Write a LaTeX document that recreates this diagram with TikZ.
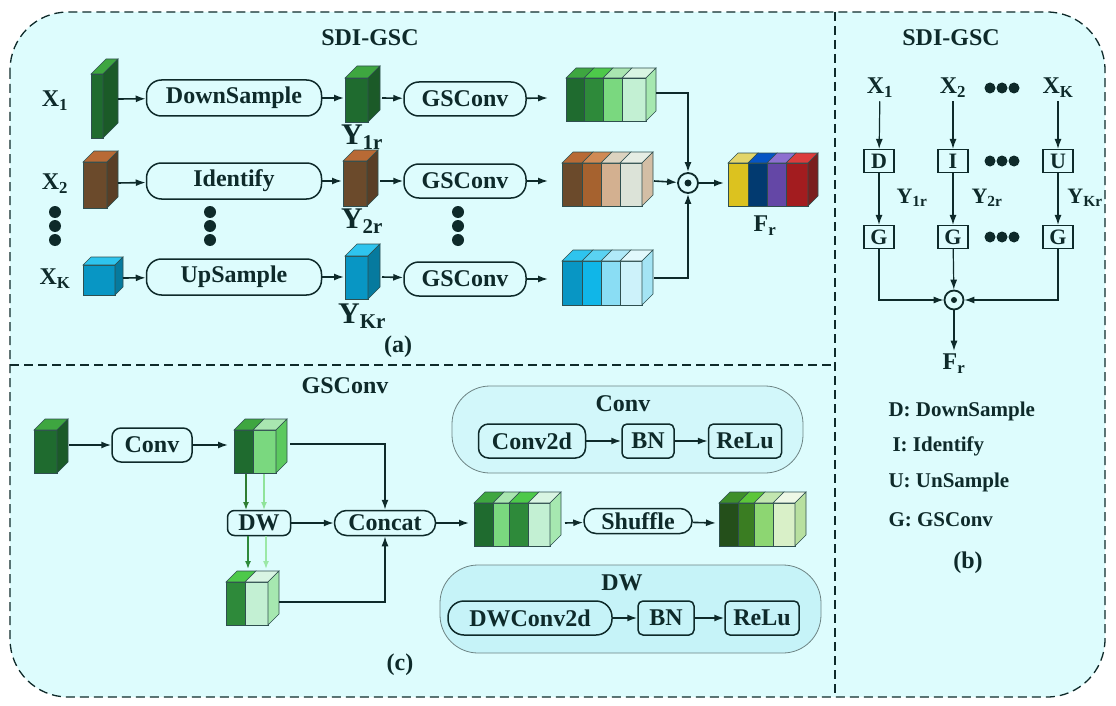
\documentclass[tikz,border=0pt]{standalone}
\usepackage{fontspec}
\setmainfont{Liberation Serif}
\usetikzlibrary{arrows.meta}
\definecolor{ink}{HTML}{0E2A2A}
\definecolor{bg}{HTML}{DDFCFD}
\definecolor{edge}{HTML}{2F4F4F}
\definecolor{ga}{HTML}{2E7D32}
\definecolor{gb}{HTML}{8FE39A}
\definecolor{gc}{HTML}{2E8A3A}
\definecolor{gd}{HTML}{9BE8A6}
\definecolor{pa}{HTML}{D2F7FA}
\definecolor{pb}{HTML}{C6F3F8}
\newcommand\slabf[7]{\definecolor{cf}{HTML}{#6}\definecolor{ct}{HTML}{#7}%
 \filldraw[fill=cf,draw=edge,line width=0.6] (#1,#3) rectangle (#2,#4);
 \filldraw[fill=ct,draw=edge,line width=0.6] (#1,#3)--(#1+#5,#3-#5)--(#2+#5,#3-#5)--(#2,#3)--cycle;}
\newcommand\slabs[5]{\definecolor{cs}{HTML}{#5}%
 \filldraw[fill=cs,draw=edge,line width=0.6] (#1,#2)--(#1+#4,#2-#4)--(#1+#4,#3-#4)--(#1,#3)--cycle;}
\begin{document}
\begin{tikzpicture}[x=1pt,y=-1pt,
  every node/.style={font=\fontsize{24}{24}\selectfont\bfseries,text=ink},
  pill/.style={draw=ink,line width=1.5,rounded corners=15,minimum height=36,inner sep=0},
  rbox/.style={draw=ink,line width=1.5,rounded corners=6,minimum height=34,inner sep=0},
  sq/.style={draw=ink,line width=1.2,minimum width=30,minimum height=23,inner sep=0,font=\fontsize{22}{22}\selectfont\bfseries},
  arr/.style={-{Latex[length=10,width=7]},line width=1.6,draw=ink},
  dot/.style={circle,fill=ink,inner sep=0,minimum width=12,minimum height=9},
  od/.style={circle,draw=ink,line width=1.8,minimum size=20,inner sep=0},
  panel/.style={draw=edge!70,line width=0.8,rounded corners=38}]
\useasboundingbox (0,0) rectangle (1116,706);
\filldraw[fill=bg,draw=ink,dash pattern=on 9 off 5,line width=1.3,rounded corners=58] (10,12) rectangle (1105,697);
\draw[ink,dash pattern=on 9 off 5,line width=1.3] (835,12)--(835,697);
\draw[ink,dash pattern=on 9 off 5,line width=1.3] (10,365)--(835,365);
% ===== (a)
\node at (370,38) {SDI-GSC};
\node at (398,347) {(a)};
\node (x1) at (55,101) {X\textsubscript{1}};
\node (x2) at (55,184) {X\textsubscript{2}};
\node (xk) at (55,279) {X\textsubscript{K}};
\foreach \x in {55,210,458}{\foreach \d in {0,1,2}{\node[dot] at (\x,212+\d*14) {};}}
\slabf{91}{103}{74}{138}{15}{1F6B2F}{3EA640}\slabs{103}{74}{138}{15}{1B5A28}
\slabf{83}{107}{162}{208}{11}{6B4A2B}{B86A35}\slabs{107}{162}{208}{11}{5A3E25}
\slabf{83}{115}{265}{295}{8}{0896C4}{2EC4EE}\slabs{115}{265}{295}{8}{067A9E}
\coordinate (c1) at (118,99);\coordinate (c2) at (118,183);\coordinate (ck) at (123,278);
\node[pill,minimum width=175] (ds) at (234,98) {DownSample};
\node[pill,minimum width=175] (id) at (234,181) {Identify};
\node[pill,minimum width=175] (us) at (234,277) {UpSample};
\draw[arr] (c1)--(ds);\draw[arr] (c2)--(id);\draw[arr] (ck)--(us);
\slabf{345}{368}{78}{122}{12}{1F6B2F}{3EA640}\slabs{368}{78}{122}{12}{1B5A28}
\slabf{343}{367}{161}{206}{11}{6B4A2B}{B86A35}\slabs{367}{161}{206}{11}{5A3E25}
\slabf{345}{368}{256}{299}{12}{0896C4}{2EC4EE}\slabs{368}{256}{299}{12}{067A9E}
\coordinate (y1i) at (344,98);\coordinate (y2i) at (342,181);\coordinate (yki) at (344,277);
\draw[arr] (ds)--(y1i);\draw[arr] (id)--(y2i);\draw[arr] (us)--(yki);
\node[font=\fontsize{30}{30}\selectfont\bfseries] at (362,137) {Y\textsubscript{\fontsize{21}{21}\selectfont 1r}};
\node[font=\fontsize{30}{30}\selectfont\bfseries] at (362,221) {Y\textsubscript{\fontsize{21}{21}\selectfont 2r}};
\node[font=\fontsize{30}{30}\selectfont\bfseries] at (362,316) {Y\textsubscript{\fontsize{21}{21}\selectfont Kr}};
\node[pill,minimum width=122,minimum height=34] (g1) at (465,99) {GSConv};
\node[pill,minimum width=122,minimum height=34] (g2) at (465,181) {GSConv};
\node[pill,minimum width=122,minimum height=34] (gk) at (465,279) {GSConv};
\coordinate (y1o) at (382,98);\coordinate (y2o) at (380,181);\coordinate (yko) at (382,277);
\draw[arr] (y1o)--(g1);\draw[arr] (y2o)--(g2);\draw[arr] (yko)--(gk);
\slabf{566}{584}{78}{121}{10}{1F6B2F}{3EA640}\slabf{584}{603}{78}{121}{10}{2E8A3A}{4DC94A}
\slabf{603}{622}{78}{121}{10}{7AD87F}{A9E6B0}\slabf{622}{646}{78}{121}{10}{C3F0D3}{D9F5E3}\slabs{646}{78}{121}{10}{A6E8B0}
\slabf{562}{582}{163}{206}{11}{6B4A2B}{B86A35}\slabf{582}{601}{163}{206}{11}{A6622F}{D08A55}
\slabf{601}{620}{163}{206}{11}{D3B090}{DCD3C0}\slabf{620}{642}{163}{206}{11}{DCE3D8}{E6EDE4}\slabs{642}{163}{206}{11}{D3BEA5}
\slabf{562}{582}{261}{305}{11}{0896C4}{2EC4EE}\slabf{582}{601}{261}{305}{11}{10B6E8}{5AD2F2}
\slabf{601}{620}{261}{305}{11}{8ADDF4}{B0E9F8}\slabf{620}{642}{261}{305}{11}{CDF2FA}{E2F8FC}\slabs{642}{261}{305}{11}{A4E4F4}
\coordinate (b1i) at (548,98);\coordinate (b2i) at (548,181);\coordinate (bki) at (548,279);
\draw[arr] (g1)--(b1i);\draw[arr] (g2)--(b2i);\draw[arr] (gk)--(bki);
\node[od] (o) at (688,183) {};\fill[ink] (o) circle (3.5);
\coordinate (b1o) at (656,93);\coordinate (b2o) at (654,181);\coordinate (bko) at (654,278);
\draw[arr] (b1o)-|(o);\draw[arr] (b2o)--(o);\draw[arr] (bko)-|(o);
\slabf{728}{748}{163}{206}{10}{DCC21F}{E3D56A}\slabf{748}{767}{163}{206}{10}{023A70}{0654C4}
\slabf{767}{786}{163}{206}{10}{6447A6}{8D70D0}\slabf{786}{808}{163}{206}{10}{A31C1F}{DC3C3C}\slabs{808}{163}{206}{10}{7A1E1E}
\coordinate (fi) at (724,183);\draw[arr] (o)--(fi);
\node at (765,226) {F\textsubscript{r}};
% ===== (b)
\node at (951,38) {SDI-GSC};
\node (bx1) at (880,88) {X\textsubscript{1}};
\node (bx2) at (953,88) {X\textsubscript{2}};
\node (bxk) at (1058,88) {X\textsubscript{K}};
\node[sq] (D) at (879,161) {D};\node[sq] (I) at (953,161) {I};\node[sq] (U) at (1058,161) {U};
\node[sq] (G1) at (879,237) {G};\node[sq] (G2) at (953,237) {G};\node[sq] (GK) at (1058,237) {G};
\foreach \y in {88,161,237}{\foreach \d in {-12,0,12}{\node[dot,minimum width=10,minimum height=11] at (1002+\d,\y) {};}}
\draw[arr,line width=1.2] (bx1)--(D);\draw[arr,line width=1.2] (bx2)--(I);\draw[arr,line width=1.2] (bxk)--(U);
\draw[arr,line width=1.2] (D)--(G1);\draw[arr,line width=1.2] (I)--(G2);\draw[arr,line width=1.2] (U)--(GK);
\node[font=\fontsize{22}{22}\selectfont\bfseries] at (912,198) {Y\textsubscript{1r}};
\node[font=\fontsize{22}{22}\selectfont\bfseries] at (987,198) {Y\textsubscript{2r}};
\node[font=\fontsize{22}{22}\selectfont\bfseries] at (1085,198) {Y\textsubscript{Kr}};
\node[od,minimum size=19] (bo) at (954,300) {};\fill[ink] (bo) circle (3);
\draw[arr,line width=1.2] (G1)|-(bo);\draw[arr,line width=1.2] (G2)--(bo);\draw[arr,line width=1.2] (GK)|-(bo);
\node (bf) at (954,364) {F\textsubscript{r}};
\draw[arr,line width=1.2] (bo)--(bf);
\begin{scope}[every node/.style={anchor=west,font=\fontsize{21}{21}\selectfont\bfseries,text=ink}]
\node at (885,411) {D: DownSample};
\node at (889,446) {I: Identify};
\node at (885,482) {U: UnSample};
\node at (885,520) {G: GSConv};
\end{scope}
\node at (968,563) {(b)};
% ===== (c)
\node at (345,386) {GSConv};
\node at (400,665) {(c)};
\slabf{34}{57}{430}{473}{11}{1F6B2F}{3EA640}\slabs{57}{430}{473}{11}{1B5A28}
\node[rbox,minimum width=80,rounded corners=9] (cv) at (152,445) {Conv};
\coordinate (ci) at (69,445);\draw[arr] (ci)--(cv);
\slabf{234}{253}{430}{473}{11}{1F6B2F}{3EA640}\slabf{253}{276}{430}{473}{11}{7AD87F}{A9E6B0}\slabs{276}{430}{473}{11}{5CC95F}
\coordinate (cu) at (228,445);\draw[arr] (cv)--(cu);
\node[rbox,minimum width=63,minimum height=25,rounded corners=7] (dw) at (259,523) {DW};
\node[rbox,minimum width=101,minimum height=25,rounded corners=12] (cc) at (385,523) {Concat};
\draw[-{Latex[length=8,width=6]},line width=1.5,draw=ga] (246,474)--(246,510);
\draw[-{Latex[length=8,width=6]},line width=1.5,draw=gb] (264,474)--(264,510);
\draw[-{Latex[length=8,width=6]},line width=1.5,draw=gc] (248,536)--(248,569);
\draw[-{Latex[length=8,width=6]},line width=1.5,draw=gd] (266,536)--(266,569);
\slabf{226}{245}{582}{625}{11}{2E8A3A}{4DC94A}\slabf{245}{268}{582}{625}{11}{C3F0D3}{D9F5E3}\slabs{268}{582}{625}{11}{A6E8B0}
\coordinate (uo) at (290,444);\coordinate (lo) at (279,602);
\draw[arr] (uo)-|(cc);\draw[arr] (lo)-|(cc);\draw[arr] (dw)--(cc);
\slabf{474}{493}{503}{546}{11}{1F6B2F}{3EA640}\slabf{493}{509}{503}{546}{11}{7AD87F}{A9E6B0}
\slabf{509}{528}{503}{546}{11}{2E8A3A}{4DC94A}\slabf{528}{550}{503}{546}{11}{C3F0D3}{D9F5E3}\slabs{550}{503}{546}{11}{A6E8B0}
\coordinate (ki) at (469,523);\draw[arr] (cc)--(ki);
\node[rbox,minimum width=108,minimum height=25,rounded corners=12] (sh) at (638,521) {Shuffle};
\coordinate (ko) at (565,523);\draw[arr] (ko)--(sh);
\slabf{719}{738}{503}{546}{11}{244F1A}{3E8F2A}\slabf{738}{754}{503}{546}{11}{3A7D22}{5CC63A}
\slabf{754}{773}{503}{546}{11}{8DD672}{C2E6B0}\slabf{773}{795}{503}{546}{11}{D9F0C8}{EEF8E6}\slabs{795}{503}{546}{11}{B8E0A0}
\coordinate (si) at (716,523);\draw[arr] (sh)--(si);
\filldraw[panel,fill=pa] (452,386) rectangle (803,473);
\node at (623,404) {Conv};
\node[rbox,minimum width=107,rounded corners=10] (c2d) at (532,441) {Conv2d};
\node[rbox,minimum width=52,rounded corners=5] (bn1) at (648,441) {BN};
\node[rbox,minimum width=73,rounded corners=5] (re1) at (745,441) {ReLu};
\draw[arr] (c2d)--(bn1);\draw[arr] (bn1)--(re1);
\filldraw[panel,fill=pb] (440,565) rectangle (821,653);
\node at (622,583) {DW};
\node[rbox,minimum width=164,rounded corners=16] (dwc) at (530,618) {DWConv2d};
\node[rbox,minimum width=56,rounded corners=5] (bn2) at (666,618) {BN};
\node[rbox,minimum width=74,rounded corners=5] (re2) at (762,618) {ReLu};
\draw[arr] (dwc)--(bn2);\draw[arr] (bn2)--(re2);
\end{tikzpicture}
\end{document}
